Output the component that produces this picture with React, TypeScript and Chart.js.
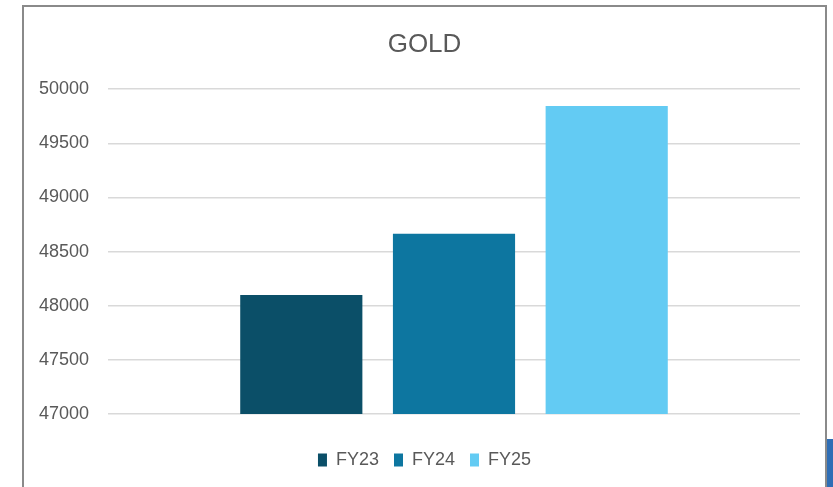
import React, { useEffect, useRef } from "react";
import { Chart, registerables } from "chart.js";

Chart.register(...registerables);

const categories = [""];
const seriesLabels = ["FY23", "FY24", "FY25"];
const seriesValues = [[48100], [48665], [49845]];
const seriesColors = ["#0b4f68", "#0d76a0", "#63cbf3"];
const yMin = 47000;
const yMax = 50000;
const yStep = 500;
const titleText = "GOLD";

export default function App() {
  const canvasRef = useRef<HTMLCanvasElement | null>(null);

  useEffect(() => {
    if (!canvasRef.current) return;
    const chart = new Chart(canvasRef.current, {
      type: "bar",
      data: {
        labels: categories,
        datasets: seriesLabels.map((label, i) => ({
          label,
          data: seriesValues[i],
          backgroundColor: seriesColors[i],
          borderWidth: 0,
          categoryPercentage: 0.662,
          barPercentage: 0.8,
        })),
      },
      options: {
        responsive: false,
        animation: false,
        layout: { padding: { left: 0, right: 0, top: 0, bottom: 8 } },
        plugins: {
          title: {
            display: true,
            text: titleText,
            color: "#595959",
            font: { family: "'Liberation Sans', Arial, sans-serif", size: 26, weight: "normal" },
            padding: { top: 22, bottom: 29 },
          },
          legend: {
            display: true,
            position: "bottom",
            labels: {
              color: "#595959",
              font: { family: "'Liberation Sans', Arial, sans-serif", size: 18 },
              boxWidth: 9,
              boxHeight: 13,
              padding: 15,
            },
          },
          tooltip: { enabled: false },
        },
        scales: {
          x: {
            display: true,
            ticks: { display: false },
            grid: { display: false },
            border: { display: false },
            afterFit: (scale: any) => {
              scale.height = 22;
            },
          },
          y: {
            min: yMin,
            max: yMax,
            position: "left",
            ticks: {
              stepSize: yStep,
              color: "#595959",
              padding: 19,
              font: { family: "'Liberation Sans', Arial, sans-serif", size: 18 },
              callback: (value: any) => String(value),
            },
            grid: { color: "#d9d9d9", lineWidth: 1.5, drawTicks: false },
            border: { display: false },
            afterFit: (scale: any) => {
              scale.width = 84;
            },
          },
          y2: {
            display: true,
            position: "right",
            ticks: { display: false },
            grid: { display: false },
            border: { display: false },
            afterFit: (scale: any) => {
              scale.width = 25;
            },
          },
        },
      },
    });
    return () => chart.destroy();
  }, []);

  return (
    <div style={{ position: "fixed", inset: 0, background: "#fff", overflow: "hidden" }}>
      <div
        style={{
          position: "absolute",
          left: 22,
          top: 5,
          width: 805,
          height: 600,
          border: "2px solid #8a8a8a",
          boxSizing: "border-box",
        }}
      />
      <div
        style={{
          position: "absolute",
          left: 827,
          top: 439,
          width: 10,
          height: 60,
          background: "#2f6eb5",
        }}
      />
      <canvas
        ref={canvasRef}
        width={801}
        height={480}
        style={{ position: "absolute", left: 24, top: 7, width: 801, height: 480 }}
      />
    </div>
  );
}
